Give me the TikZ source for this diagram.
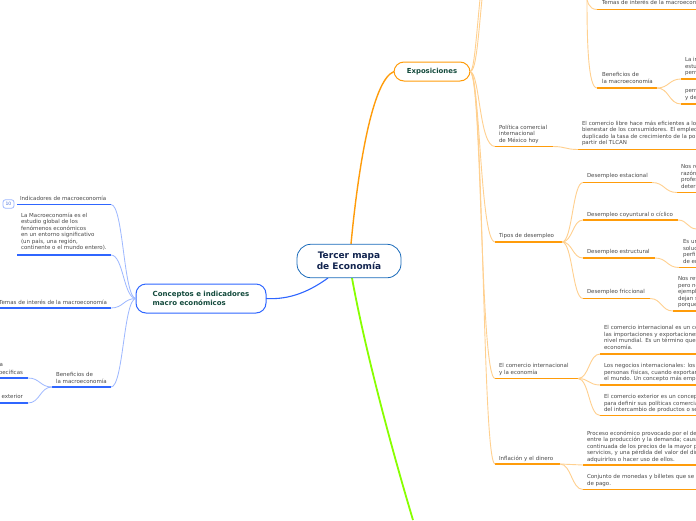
\documentclass[tikz,border=0pt]{standalone}
\usepackage{fontspec}
\usetikzlibrary{calc}
\setmainfont{DejaVu Sans}
\definecolor{txt}{HTML}{4A4A4A}
\definecolor{blueb}{HTML}{2F66FF}
\definecolor{bluec}{HTML}{9DB8FF}
\definecolor{orab}{HTML}{FF9C0A}
\definecolor{orac}{HTML}{FFD08F}
\definecolor{navy}{HTML}{12244F}
\definecolor{dgreen}{HTML}{134A3C}
\tikzset{
  lab/.style={inner sep=0pt,outer sep=0pt,anchor=north west,align=left,text=txt,yshift=-0.8pt,font=\fontsize{5.5}{6.5}\selectfont},
  labr/.style={lab,anchor=north east,align=right},
  obar/.style={draw=orab,line width=1.5pt},
  bbar/.style={draw=blueb,line width=1.5pt},
  oconn/.style={draw=orac,line width=0.9pt},
  bconn/.style={draw=bluec,line width=0.8pt},
  maintopic/.style={draw=#1,fill=white,line width=1pt,rounded corners=10pt,inner sep=0pt,outer sep=0pt,align=center},
}
\newcommand{\obr}[4]{\coordinate (#1l) at (#2,#4);\coordinate (#1r) at (#3,#4);\draw[obar] (#1l) -- (#1r);}
\newcommand{\bbr}[4]{\coordinate (#1l) at (#2,#4);\coordinate (#1r) at (#3,#4);\draw[bbar] (#1l) -- (#1r);}
\newcommand{\scurve}[3]{\coordinate (mm) at ($(#2)!.5!(#3)$);\draw[#1] (#2) .. controls (mm |- #2) and (mm |- #3) .. (#3);}
\newcommand{\rcurve}[2]{\scurve{oconn}{#1}{#2}}
\newcommand{\lcurve}[2]{\scurve{bconn}{#1}{#2}}
\begin{document}
\begin{tikzpicture}[x=1pt,y=-1pt]
\useasboundingbox (0,0) rectangle (696,520);
\clip (0,0) rectangle (696,520);
\fill[white] (0,0) rectangle (696,520);
\coordinate (gend) at (413,520);
\coordinate (etop) at (482,-1);
\coordinate (etopb) at (480,-1);
\coordinate (btop) at (587,-1);
\coordinate (cut) at (697,229);
% bars
\obr{pol}{495}{553}{146.5}
\obr{polt}{578}{697}{149.5}
\obr{tem}{597}{697}{9.5}
\obr{ben}{597}{657}{88}
\obr{bena}{681}{697}{79}
\obr{benb}{681}{697}{104}
\obr{tip}{495}{562}{242}
\obr{est}{583}{652}{182.5}
\obr{coy}{583}{678}{220}
\obr{str}{583}{655}{258}
\obr{fri}{583}{650}{298.5}
\obr{esta}{677}{697}{192.5}
\obr{stra}{679}{697}{267.5}
\obr{fria}{673}{697}{311}
\obr{com}{495}{578}{378.5}
\obr{coma}{600}{697}{354}
\obr{comb}{600}{697}{385}
\obr{comc}{600}{697}{415.5}
\obr{inf}{495}{560}{464}
\obr{infa}{583}{697}{465}
\obr{infb}{583}{697}{489.5}
\bbr{ind}{17}{111}{204.5}
\bbr{mac}{17}{111}{255}
\bbr{ltem}{-1}{111}{308}
\bbr{lben}{52}{111}{387}
\bbr{lbena}{-1}{28}{378}
\bbr{lbenb}{-1}{28}{403}
% main topics
\node[maintopic=orab,minimum width=76pt,minimum height=19pt,font=\fontsize{6.9}{8}\selectfont\bfseries,text=dgreen] (exp) at (432,71.5) {Exposiciones};
\node[maintopic=blueb,minimum width=130pt,minimum height=29pt,font=\fontsize{7}{9}\selectfont\bfseries,text=dgreen,align=left] (con) at (201,298.5) {Conceptos e indicadores\\macro económicos};
% main connectors
\draw[draw=orab,line width=1.4pt] (351,244) .. controls (358,170) and (372,80) .. (exp.west);
\draw[draw=blueb,line width=1.1pt] (328,278) .. controls (310,291) and (290,300) .. (con.east);
\draw[draw=lime!60!green!85!yellow,line width=1.8pt] (352,278) .. controls (365,350) and (392,450) .. (gend);
% exposiciones branches
\draw[oconn] (exp.east) .. controls (476,72) and (478,40) .. (etop);
\draw[oconn] (exp.east) .. controls (474,72) and (476,40) .. (etopb);
\draw[oconn] (exp.east) .. controls (480,72) and (479,146.5) .. (poll);
\draw[oconn] (exp.east) .. controls (480,72) and (480,242) .. (tipl);
\draw[oconn] (exp.east) .. controls (482,72) and (480,378.5) .. (coml);
\draw[oconn] (exp.east) .. controls (484,72) and (482,464) .. (infl);
% second-level connectors
\rcurve{polr}{poltl}
\draw[oconn] (btop) .. controls (587,-1) and (588,9.5) .. (teml);
\draw[oconn] (btop) .. controls (587,40) and (588,88) .. (benl);
\rcurve{benr}{benal}
\rcurve{benr}{benbl}
\rcurve{tipr}{estl}
\rcurve{tipr}{coyl}
\rcurve{tipr}{strl}
\rcurve{tipr}{fril}
\rcurve{estr}{estal}
\rcurve{coyr}{cut}
\rcurve{strr}{stral}
\rcurve{frir}{frial}
\rcurve{comr}{comal}
\rcurve{comr}{combl}
\rcurve{comr}{comcl}
\rcurve{infr}{infal}
\rcurve{infr}{infbl}
\lcurve{con.west}{indr}
\lcurve{con.west}{macr}
\lcurve{con.west}{ltemr}
\lcurve{con.west}{lbenr}
\lcurve{lbenl}{lbenar}
\lcurve{lbenl}{lbenbr}
% central topic
\node[draw=blue!50!cyan!70!black!90,fill=white,line width=0.8pt,rounded corners=14pt,minimum width=104pt,minimum height=33.5pt,inner sep=0pt,align=center,font=\fontsize{9}{10.8}\selectfont\bfseries,text=navy] (tm) at (349,261) {Tercer mapa\\de Economía};
% labels right
\node[lab] (t1) at (602,-1) {Temas de interés de la macroeconomía};
\node[lab] (t2) at (602,72) {Beneficios de\\la macroeconomía};
\node[lab] (t3) at (685,57) {La importancia\\estudio\\permite};
\node[lab] (t4) at (685,88) {permite\\y desarrollo};
\node[lab] (t5) at (499,124) {Política comercial\\internacional\\de México hoy};
\node[lab] (t6) at (582,120) {El comercio libre hace más eficientes a los\\bienestar de los consumidores. El empleo\\duplicado la tasa de crecimiento de la población\\partir del TLCAN};
\node[lab] (t7) at (499,233) {Tipos de desempleo};
\node[lab] (t8) at (587,173) {Desempleo estacional};
\node[lab] (t9) at (587,211) {Desempleo coyuntural o cíclico};
\node[lab] (t10) at (587,249) {Desempleo estructural};
\node[lab] (t11) at (587,289) {Desempleo friccional};
\node[lab] (t12) at (681,164) {Nos refiere\\razón\\profesional\\determinada};
\node[lab] (t13) at (683,239) {Es un\\solución\\perfil\\de empleo};
\node[lab] (t14) at (678,276) {Nos refiere\\pero no\\ejemplo\\dejan su\\porque};
\node[lab] (t15) at (499,363) {El comercio internacional\\y la economía};
\node[lab] (t16) at (604,325) {El comercio internacional es un conjunto\\las importaciones y exportaciones\\nivel mundial. Es un término que\\economía.};
\node[lab] (t17) at (604,363) {Los negocios internacionales: los flujos\\personas físicas, cuando exportan\\el mundo. Un concepto más empresarial};
\node[lab] (t18) at (604,394) {El comercio exterior es un concepto\\para definir sus políticas comerciales\\del intercambio de productos o servicios};
\node[lab] (t19) at (499,455) {Inflación y el dinero};
\node[lab] (t20) at (587,430) {Proceso económico provocado por el desequilibrio\\entre la producción y la demanda; causa\\continuada de los precios de la mayor parte\\servicios, y una pérdida del valor del dinero\\adquirirlos o hacer uso de ellos.};
\node[lab] (t21) at (587,474) {Conjunto de monedas y billetes que se usan\\de pago.};
% labels left
\node[lab] (l1) at (20,195) {Indicadores de macroeconomía};
\node[lab] (l2) at (21,212) {La Macroeconomía es el\\estudio global de los\\fenómenos económicos\\en un entorno significativo\\(un país, una región,\\continente o el mundo entero).};
\node[labr] (l3) at (107,299) {Temas de interés de la macroeconomía};
\node[lab] (l4) at (56,372) {Beneficios de\\la macroeconomía};
\node[labr] (l5a) at (3,363) {a};
\node[labr] (l5) at (23,369.5) {específicas};
\node[labr] (l6) at (23,394) {exterior};
\node[draw=bluec,fill=white,line width=0.8pt,rounded corners=2.5pt,minimum width=11pt,minimum height=8.5pt,inner sep=0pt,text=blueb!70!gray,font=\fontsize{4.5}{5}\selectfont] (cnt) at (8.5,204) {10};
\end{tikzpicture}
\end{document}
